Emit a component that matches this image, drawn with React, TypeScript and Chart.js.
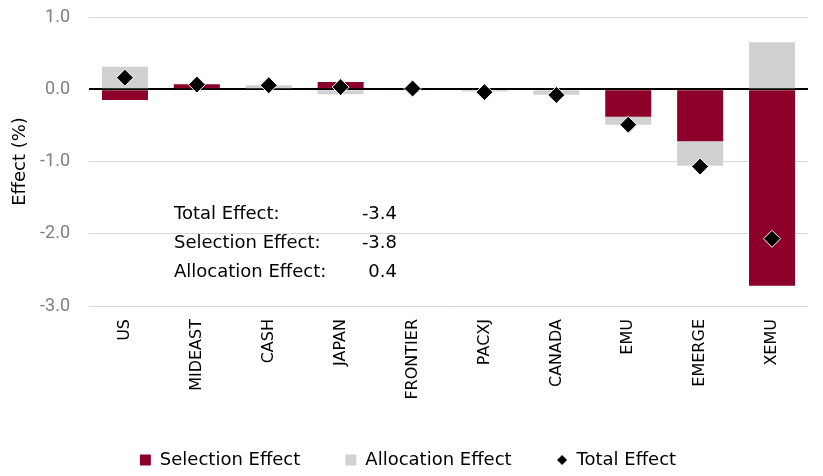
import React, { useEffect, useRef } from "react";
import { Chart, registerables } from "chart.js";

Chart.register(...registerables);

const categories = ["US", "MIDEAST", "CASH", "JAPAN", "FRONTIER", "PACXJ", "CANADA", "EMU", "EMERGE", "XEMU"];
const selectionEffect = [-0.15, 0.07, 0.0, 0.1, 0.0, 0.0, 0.0, -0.38, -0.72, -2.72];
const allocationEffect = [0.31, 0.0, 0.055, -0.07, -0.01, -0.03, -0.075, -0.11, -0.34, 0.65];
const totalEffect = [0.16, 0.065, 0.055, 0.03, 0.01, -0.04, -0.08, -0.49, -1.07, -2.07];

const summaryLabels = ["Total Effect:", "Selection Effect:", "Allocation Effect:"];
const summaryValues = ["-3.4", "-3.8", "0.4"];

const RED = "#8c0029";
const GREY = "#d0d1d3";
const TEXT_FONT = "'DejaVu Sans', sans-serif";
const TICK_FONT = "Roboto, 'Noto Sans', sans-serif";

function makeDiamond(size: number): HTMLCanvasElement {
  const c = document.createElement("canvas");
  c.width = size;
  c.height = size;
  const g = c.getContext("2d")!;
  g.fillStyle = "#000";
  g.beginPath();
  g.moveTo(size / 2, 0);
  g.lineTo(size, size / 2);
  g.lineTo(size / 2, size);
  g.lineTo(0, size / 2);
  g.closePath();
  g.fill();
  return c;
}

const summaryPlugin = {
  id: "summaryText",
  afterDatasetsDraw(chart: any) {
    const { ctx, chartArea } = chart;
    ctx.save();
    ctx.font = `18px ${TEXT_FONT}`;
    ctx.fillStyle = "#000";
    ctx.textBaseline = "middle";
    summaryLabels.forEach((lab, i) => {
      const y = chartArea.top + 197 + i * 29;
      ctx.textAlign = "left";
      ctx.fillText(lab, chartArea.left + 85, y);
      ctx.textAlign = "right";
      ctx.fillText(summaryValues[i], chartArea.left + 308, y);
    });
    ctx.restore();
  },
};

export default function App() {
  const ref = useRef<HTMLCanvasElement | null>(null);
  useEffect(() => {
    if (!ref.current) return;
    const diamond = makeDiamond(10);
    const chart = new Chart(ref.current, {
      data: {
        labels: categories,
        datasets: [
          {
            type: "line",
            label: "Total Effect",
            data: totalEffect,
            showLine: false,
            pointStyle: "rectRot",
            pointRadius: 8.5,
            pointBackgroundColor: "#000",
            pointBorderColor: "#fff",
            pointBorderWidth: 1,
            order: 0,
          } as any,
          {
            type: "bar",
            label: "Selection Effect",
            data: selectionEffect,
            backgroundColor: RED,
            borderWidth: 0,
            order: 1,
          },
          {
            type: "bar",
            label: "Allocation Effect",
            data: allocationEffect,
            backgroundColor: GREY,
            borderWidth: 0,
            order: 2,
          },
        ],
      },
      options: {
        animation: false,
        responsive: true,
        maintainAspectRatio: false,
        datasets: { bar: { barPercentage: 0.64, categoryPercentage: 1 } },
        layout: { autoPadding: false, padding: { top: 17, right: 15, left: 8, bottom: 0 } },
        scales: {
          x: {
            stacked: true,
            grid: { display: false },
            border: { display: false },
            afterFit: (s: any) => {
              s.height = 100;
            },
            ticks: {
              color: "#000",
              font: { family: TEXT_FONT, size: 16 },
              minRotation: 90,
              maxRotation: 90,
              padding: 5,
              autoSkip: false,
            },
          },
          y: {
            stacked: true,
            min: -3,
            max: 1,
            border: { display: false },
            afterFit: (s: any) => {
              s.width = 81;
              s.paddingTop = 0;
              s.paddingBottom = 0;
            },
            grid: {
              drawTicks: false,
              color: (c: any) => (c.tick && c.tick.value === 0 ? "#000" : "#d9d9d9"),
              lineWidth: (c: any) => (c.tick && c.tick.value === 0 ? 2 : 1),
            },
            ticks: {
              stepSize: 1,
              color: "#808080",
              padding: 19,
              font: { family: TICK_FONT, size: 18 },
              callback: (v: any) => Number(v).toFixed(1),
            },
            title: {
              display: true,
              text: "Effect (%)",
              color: "#000",
              font: { family: TEXT_FONT, size: 18 },
              padding: { top: 2, bottom: 0 },
            },
          },
        },
        plugins: {
          tooltip: { enabled: false },
          legend: {
            position: "bottom",
            maxHeight: 70,
            labels: {
              usePointStyle: true,
              boxWidth: 11,
              boxHeight: 11,
              padding: 45,
              color: "#000",
              font: { family: TEXT_FONT, size: 18 },
              generateLabels: () => [
                { text: "Selection Effect", fillStyle: RED, strokeStyle: RED, lineWidth: 0, pointStyle: "rect", hidden: false, datasetIndex: 1 },
                { text: "Allocation Effect", fillStyle: GREY, strokeStyle: GREY, lineWidth: 0, pointStyle: "rect", hidden: false, datasetIndex: 2 },
                { text: "Total Effect", fillStyle: "#000", strokeStyle: "#000", lineWidth: 0, pointStyle: diamond, hidden: false, datasetIndex: 0 },
              ] as any,
            },
          },
        },
      } as any,
      plugins: [summaryPlugin],
    });
    return () => chart.destroy();
  }, []);
  return (
    <div style={{ position: "absolute", left: 0, top: 0, width: 823, height: 476 }}>
      <canvas ref={ref} />
    </div>
  );
}
